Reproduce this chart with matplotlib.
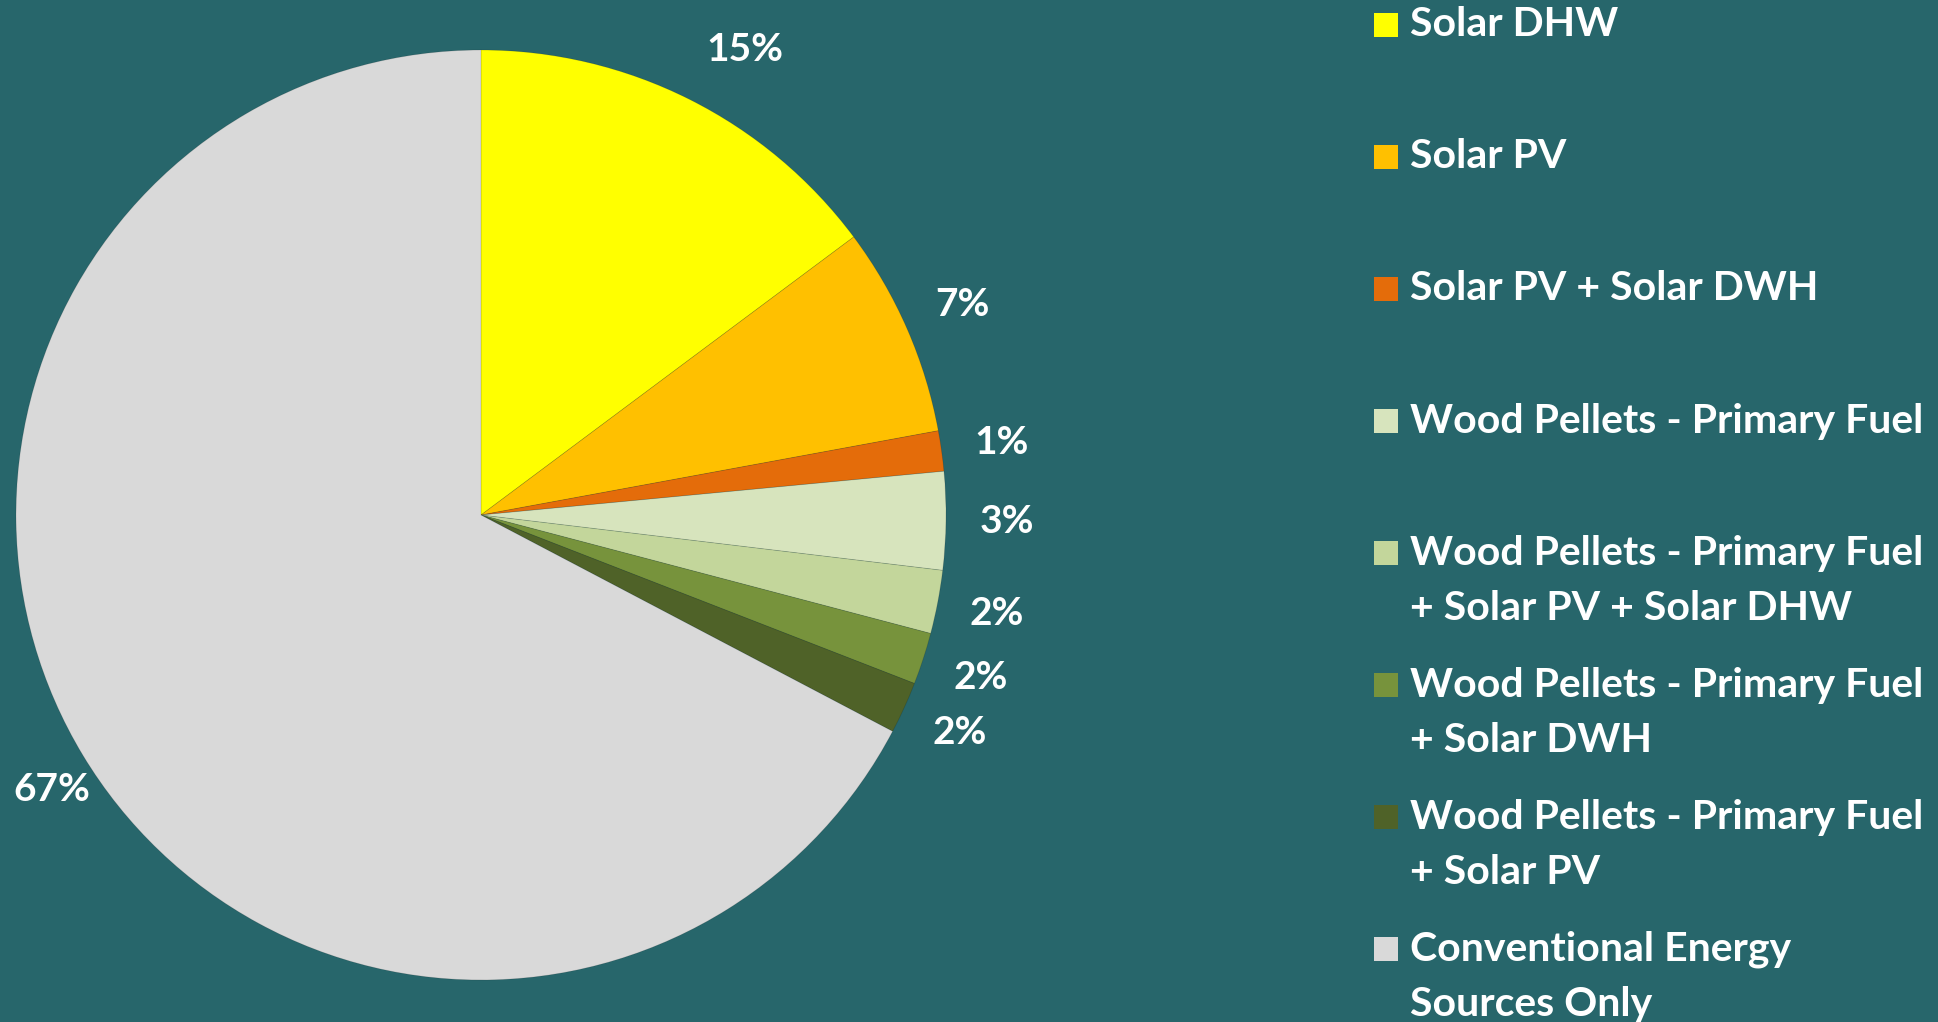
import matplotlib
matplotlib.use('Agg')
import matplotlib.pyplot as plt
from matplotlib.patches import Rectangle

plt.rcParams['font.family'] = ['Lato', 'DejaVu Sans']

# data
labels = ['Solar DHW', 'Solar PV', 'Solar PV + Solar DWH',
          'Wood Pellets - Primary Fuel',
          'Wood Pellets - Primary Fuel\n+ Solar PV + Solar DHW',
          'Wood Pellets - Primary Fuel\n+ Solar DWH',
          'Wood Pellets - Primary Fuel\n+ Solar PV',
          'Conventional Energy\nSources Only']
shares = [14.8, 7.3, 1.4, 3.4, 2.2, 1.8, 1.8, 67.3]
colors = ['#FFFF00', '#FFC000', '#E46C0A', '#D7E4BD',
          '#C3D69B', '#77933C', '#4F6228', '#D9D9D9']
bg = '#27666B'

W, H = 1938, 1022
fig = plt.figure(figsize=(W / 100, H / 100), dpi=100, facecolor=bg)

# pie centre ~(481, 515) px, radius ~465 px
cx, cy, r = 481, 515, 465
ax = fig.add_axes([(cx - r) / W, (H - cy - r) / H, 2 * r / W, 2 * r / H])
ax.set_facecolor(bg)
wedges, texts, autotexts = ax.pie(shares, colors=colors, startangle=90,
                                  counterclock=False, radius=1,
                                  autopct='%.0f%%', pctdistance=1.13,
                                  wedgeprops=dict(linewidth=0.6, edgecolor='#00000022'),
                                  textprops=dict(color='white', fontsize=28, fontweight='bold'))
# nudge a couple of labels to where Excel's best fit put them
x, y = autotexts[0].get_position()
autotexts[0].set_position((x + 0.06, y - 0.01))
x, y = autotexts[-1].get_position()
autotexts[-1].set_position((x + 0.045, y - 0.005))
ax.set_xlim(-1, 1)
ax.set_ylim(-1, 1)
ax.set_aspect('equal')
ax.axis('off')

# legend drawn by hand (Excel style, first line aligned with marker)
y0, step, line_gap = 25, 132, 55
for i, (lab, col) in enumerate(zip(labels, colors)):
    y = y0 + i * step
    fig.patches.append(Rectangle((1374 / W, (H - y - 12) / H), 24 / W, 24 / H,
                                 transform=fig.transFigure, facecolor=col,
                                 edgecolor='none'))
    for k, line in enumerate(lab.split('\n')):
        fig.text(1410 / W, (H - y - k * line_gap) / H, line, color='white',
                 fontsize=29.5, fontweight='bold', va='center', ha='left')

plt.savefig('out.png', dpi=100, facecolor=bg)
